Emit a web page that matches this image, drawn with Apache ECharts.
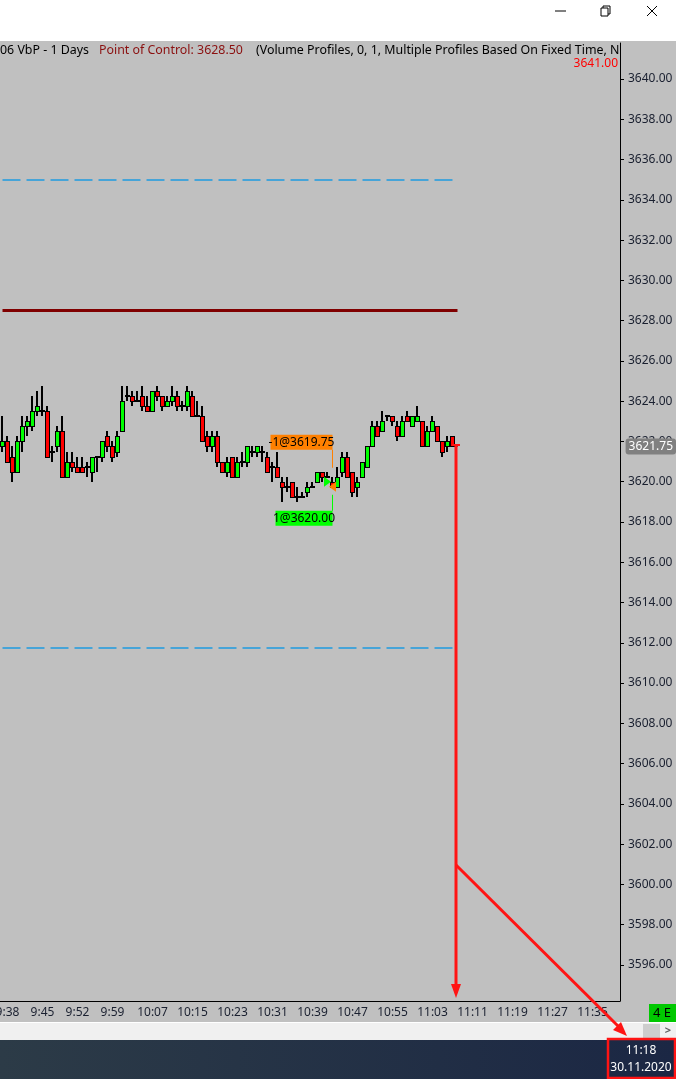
<!DOCTYPE html>
<html>
<head>
<meta charset="utf-8">
<title>ES 1 Minute</title>
<script src="https://cdn.jsdelivr.net/npm/echarts@6.0.0/dist/echarts.min.js"></script>
<style>
  html, body { margin: 0; padding: 0; background: #ffffff; }
  #main { width: 676px; height: 1079px; }
</style>
</head>
<body>
<div id="main"></div>
<script type="text/javascript">
// one-minute bars, 9:37 .. 11:07
var opens  = [3621.75, 3622, 3621.25, 3620.5, 3622, 3622.75, 3622.75, 3623.5, 3623.5, 3623.5,
              3621.5, 3621.75, 3622.5, 3620.25, 3621, 3620.75, 3620.75, 3620.75, 3620.5, 3621.25,
              3621.25, 3622.25, 3621.75, 3621.5, 3622.5, 3624.25, 3624.25, 3624, 3624.25, 3623.75,
              3623.5, 3624.5, 3624.25, 3623.75, 3624, 3624.25, 3623.75, 3623.75, 3624.25, 3623.25,
              3623.25, 3622.25, 3621.75, 3622.25, 3621, 3620.5, 3621.25, 3620.25, 3621, 3621,
              3621.5, 3621.5, 3621.5, 3621.25, 3620.75, 3620.75, 3620, 3619.75, 3620, 3619.25,
              3619.25, 3619.5, 3619.75, 3620, 3620.5, 3620.25, 3620, 3619.75, 3620.5, 3621.25,
              3620.5, 3619.75, 3620.25, 3620.75, 3621.75, 3622.75, 3622.5, 3623.25, 3623.25, 3622.75,
              3622.25, 3623.25, 3622.75, 3623, 3623, 3621.75, 3622.5, 3622.75, 3622, 3621.75,
              3622.25];
var closes = [3622, 3621, 3620.5, 3622, 3622.75, 3623, 3623.5, 3623.75, 3623.5, 3621.25,
              3621.5, 3622.5, 3620.25, 3621, 3620.75, 3620.5, 3620.5, 3620.75, 3621.25, 3621.25,
              3622, 3621.75, 3621.25, 3622.25, 3624, 3624.25, 3624, 3624, 3623.75, 3623.5,
              3624.5, 3624.25, 3623.75, 3624, 3624.25, 3623.75, 3623.75, 3624.5, 3623.25, 3623.25,
              3622, 3621.75, 3622.25, 3621, 3620.5, 3621, 3620.25, 3621, 3621, 3621.75,
              3621.5, 3621.75, 3621.5, 3620.5, 3620.75, 3620.25, 3619.75, 3619.75, 3619.25, 3619.25,
              3619.25, 3619.75, 3619.75, 3620.5, 3620.25, 3620.25, 3619.75, 3620.25, 3621.25, 3620.25,
              3619.5, 3620, 3621, 3621.75, 3622.75, 3622.25, 3623, 3623.25, 3623, 3622.25,
              3623, 3623, 3623.25, 3623.25, 3621.75, 3622.5, 3623, 3622, 3621.5, 3622,
              3621.75];
var lows   = [3621.5, 3621, 3620, 3620.5, 3621.5, 3622.25, 3622.5, 3623.25, 3623.25, 3621.25,
              3621, 3621.5, 3620.25, 3620.25, 3620.5, 3620.5, 3620.5, 3620.25, 3620, 3620.5,
              3621, 3621.5, 3621, 3621.25, 3622.5, 3624, 3623.75, 3624, 3623.5, 3623.5,
              3623.5, 3624, 3623.5, 3623.75, 3623.75, 3623.5, 3623.5, 3623.5, 3623.25, 3623.25,
              3622, 3621.5, 3621.5, 3620.75, 3620.5, 3620.25, 3620.25, 3620.25, 3620.75, 3620.75,
              3621.25, 3621.25, 3621, 3620.5, 3620, 3620.25, 3619, 3619.5, 3619.25, 3619,
              3619.25, 3619.25, 3619.75, 3620, 3620, 3620.25, 3619.75, 3619.75, 3620.25, 3620.25,
              3619.25, 3619.25, 3620.25, 3620.75, 3621.75, 3622.25, 3622.5, 3623, 3622.75, 3622,
              3622.25, 3623, 3622.75, 3623, 3621.75, 3621.75, 3622.5, 3622, 3621.25, 3621.5,
              3621.75];
var highs  = [3623.25, 3622.25, 3621.75, 3622.25, 3623.25, 3623.25, 3624.25, 3624.5, 3624.75, 3623.75,
              3621.75, 3622.75, 3623.25, 3621.5, 3621.5, 3621.25, 3621.25, 3621, 3621.25, 3621.25,
              3622, 3622.5, 3622, 3622.5, 3624.75, 3624.75, 3624.5, 3624.5, 3624.75, 3624.25,
              3624.5, 3624.75, 3624.25, 3624.25, 3624.75, 3624.5, 3624, 3624.75, 3624.5, 3624,
              3623.75, 3622.5, 3622.5, 3622.5, 3621, 3621.25, 3621.25, 3621.25, 3621.5, 3621.75,
              3621.75, 3621.75, 3621.75, 3621.5, 3621, 3621.5, 3620.25, 3620.25, 3620, 3619.75,
              3619.5, 3620, 3620, 3620.5, 3620.5, 3620.5, 3620.25, 3620.75, 3621.5, 3621.5,
              3620.5, 3620.25, 3621, 3621.75, 3623, 3623, 3623.5, 3623.25, 3623.25, 3623,
              3623.25, 3623.5, 3623.25, 3623.75, 3623, 3622.75, 3623.25, 3622.75, 3622, 3622.25,
              3622.25];

var xTickLabels = ['9:38', '9:45', '9:52', '9:59', '10:07', '10:15', '10:23', '10:31',
                   '10:39', '10:47', '10:55', '11:03', '11:11', '11:19', '11:27', '11:35'];
var yTicks = [3596, 3598, 3600, 3602, 3604, 3606, 3608, 3610, 3612, 3614, 3616, 3618,
              3620, 3622, 3624, 3626, 3628, 3630, 3632, 3634, 3636, 3638, 3640];

var pocPrice = 3628.50;
var vaHigh = 3635.00;
var vaLow = 3611.75;
var lastPrice = 3621.75;
var sellFill = { time: '10:43', price: 3619.75, text: '-1@3619.75' };
var buyFill  = { time: '10:42', price: 3620.00, text: '1@3620.00' };

// minute slots on the time axis, 9:37 .. 11:40
var times = [];
for (var m = 9 * 60 + 37; m <= 11 * 60 + 40; m++) {
    times.push(Math.floor(m / 60) + ':' + ('0' + (m % 60)).slice(-2));
}

// [slot, open, close, low, high]
var bars = opens.map(function (o, i) {
    return [i, o, closes[i], lows[i], highs[i]];
});

var txt = '#1a2030';
var font = 'Noto Sans';
var hdrFont = '12.4px "Noto Sans"';

function showTick(index, value) {
    return xTickLabels.indexOf(value) >= 0;
}

// NinjaTrader style bar: 2px black wick, black framed body
function renderBar(params, api) {
    var idx = api.value(0);
    var pO = api.coord([idx, api.value(1)]);
    var pC = api.coord([idx, api.value(2)]);
    var pL = api.coord([idx, api.value(3)]);
    var pH = api.coord([idx, api.value(4)]);
    var x = Math.floor(pO[0]);
    var yO = Math.round(pO[1]), yC = Math.round(pC[1]);
    var yL = Math.round(pL[1]), yH = Math.round(pH[1]);
    var top = Math.min(yO, yC);
    var h = Math.abs(yO - yC);
    var kids = [{
        type: 'rect',
        shape: { x: x - 1, y: yH, width: 2, height: Math.max(yL - yH, 1) },
        style: { fill: '#000' }
    }];
    if (h < 2) {
        kids.push({ type: 'rect', shape: { x: x - 2, y: top - 1, width: 5, height: 2 }, style: { fill: '#000' } });
    } else {
        kids.push({ type: 'rect', shape: { x: x - 2, y: top, width: 5, height: h + 1 }, style: { fill: '#000' } });
        kids.push({ type: 'rect', shape: { x: x - 1, y: top + 1, width: 3, height: h - 1 },
                    style: { fill: api.value(2) > api.value(1) ? '#00ff00' : '#ff0000' } });
    }
    return { type: 'group', children: kids };
}

var myChart = echarts.init(document.getElementById('main'));

var option = {
    backgroundColor: '#c0c0c0',
    animation: false,
    axisPointer: { triggerOn: 'none' },
    grid: { left: 0, right: 56, top: 43, bottom: 78, outerBoundsMode: 'none', containLabel: false },
    xAxis: {
        type: 'category',
        data: times,
        boundaryGap: true,
        axisLine: { lineStyle: { color: '#000', width: 1 } },
        axisTick: { alignWithLabel: true, interval: showTick, length: 4, lineStyle: { color: '#000' } },
        axisLabel: { interval: showTick, color: txt, fontFamily: font, fontSize: 12, margin: 6 },
        splitLine: { show: false }
    },
    yAxis: {
        type: 'value',
        position: 'right',
        min: 3594.21,
        max: 3641.79,
        axisLine: { show: true, lineStyle: { color: '#000', width: 1 } },
        axisTick: { show: true, customValues: yTicks, length: 4, lineStyle: { color: '#000' } },
        axisLabel: {
            customValues: yTicks, color: txt, fontFamily: font, fontSize: 12, margin: 8,
            formatter: function (v) { return v.toFixed(2); }
        },
        splitLine: { show: false },
        axisPointer: {
            show: true,
            value: lastPrice,
            status: 'show',
            triggerTooltip: false,
            lineStyle: { opacity: 0 },
            label: {
                show: true, backgroundColor: '#808080', color: '#ffffff',
                fontFamily: font, fontSize: 12, padding: [2, 3, 2, 3], margin: 6,
                formatter: function (p) { return p.value.toFixed(2); }
            }
        }
    },
    series: [{
        type: 'custom',
        renderItem: renderBar,
        data: bars,
        encode: { x: 0, y: [1, 2, 3, 4] },
        markLine: {
            silent: true,
            symbol: ['none', 'none'],
            label: { show: false },
            data: [
                [{ coord: ['9:37', vaHigh], lineStyle: { color: '#1e9be0', width: 1.5, type: [18, 6] } },
                 { coord: ['11:08', vaHigh] }],
                [{ coord: ['9:37', vaLow], lineStyle: { color: '#1e9be0', width: 1.5, type: [18, 6] } },
                 { coord: ['11:08', vaLow] }],
                [{ coord: ['9:37', pocPrice], lineStyle: { color: '#800000', width: 3, type: 'solid' } },
                 { coord: ['11:08', pocPrice] }],
                [{ coord: ['11:07', lastPrice], lineStyle: { color: '#000', width: 1, type: 'solid' } },
                 { coord: ['11:08', lastPrice] }]
            ]
        },
        markPoint: {
            silent: true,
            data: [
                { coord: [buyFill.time, buyFill.price], symbol: 'triangle', symbolRotate: -90,
                  symbolSize: [10, 7], itemStyle: { color: '#00ff00' }, label: { show: false } },
                { coord: [sellFill.time, sellFill.price], symbol: 'triangle', symbolRotate: 90,
                  symbolSize: [10, 7], itemStyle: { color: '#ff8000' }, label: { show: false } },
                { coord: [buyFill.time, buyFill.price], symbol: 'rect', symbolSize: [1, 16],
                  symbolOffset: [5, 21], itemStyle: { color: '#00ff00' }, label: { show: false } },
                { coord: [sellFill.time, sellFill.price], symbol: 'rect', symbolSize: [1, 18],
                  symbolOffset: [0, -28], itemStyle: { color: '#ff8000' }, label: { show: false } },
                { coord: [buyFill.time, buyFill.price], symbol: 'rect', symbolSize: [57, 15],
                  symbolOffset: [-23.5, 36.5], itemStyle: { color: '#00ff00' },
                  label: { show: true, position: 'inside', formatter: buyFill.text, color: '#000',
                           fontFamily: font, fontSize: 12 } },
                { coord: [sellFill.time, sellFill.price], symbol: 'rect', symbolSize: [62, 15],
                  symbolOffset: [-31, -44.5], itemStyle: { color: '#ff8000' },
                  label: { show: true, position: 'inside', formatter: sellFill.text, color: '#000',
                           fontFamily: font, fontSize: 12 } }
            ]
        }
    }],
    graphic: [
        // window title bar
        { type: 'rect', shape: { x: 0, y: 0, width: 676, height: 41 }, style: { fill: '#ffffff' }, z: 10 },
        { type: 'line', shape: { x1: 555, y1: 11, x2: 566, y2: 11 }, style: { stroke: '#000', lineWidth: 1 }, z: 11 },
        { type: 'rect', shape: { x: 601, y: 8, width: 7, height: 8 }, style: { fill: '#fff', stroke: '#000', lineWidth: 1 }, z: 11 },
        { type: 'polyline', shape: { points: [[603, 8], [603, 6], [610, 6], [610, 14], [608, 14]] }, style: { stroke: '#000', lineWidth: 1, fill: null }, z: 11 },
        { type: 'line', shape: { x1: 647, y1: 6, x2: 657, y2: 16 }, style: { stroke: '#000', lineWidth: 1 }, z: 11 },
        { type: 'line', shape: { x1: 657, y1: 6, x2: 647, y2: 16 }, style: { stroke: '#000', lineWidth: 1 }, z: 11 },

        // indicator header
        { type: 'text', left: 0, top: 44, z: 11,
          style: { text: '06 VbP - 1 Days', fill: '#000', font: hdrFont } },
        { type: 'text', left: 99, top: 44, z: 11,
          style: { text: 'Point of Control: 3628.50', fill: '#8b1010', font: hdrFont } },
        { type: 'text', left: 256, top: 44, z: 11,
          style: { text: '(Volume Profiles, 0, 1, Multiple Profiles Based On Fixed Time, N',
                   fill: '#000', font: hdrFont, width: 372, overflow: 'truncate', ellipsis: '' } },
        { type: 'text', right: 58, top: 58, z: 11,
          style: { text: '3641.00', fill: '#ff0000', font: '12px "Noto Sans"', align: 'right' } },

        // bottom right connection box
        { type: 'rect', shape: { x: 649, y: 1004, width: 27, height: 18 }, style: { fill: '#00c800' }, z: 10 },
        { type: 'text', x: 662, y: 1013, z: 11,
          style: { text: '4 E', fill: '#000', font: '13px "Noto Sans"', align: 'center', verticalAlign: 'middle' } },

        // scroll strip
        { type: 'rect', shape: { x: 0, y: 1022, width: 676, height: 18 }, style: { fill: '#f0f0f0' }, z: 10 },
        { type: 'rect', shape: { x: 0, y: 1022, width: 676, height: 1 }, style: { fill: '#ffffff' }, z: 10 },
        { type: 'rect', shape: { x: 643, y: 1024, width: 17, height: 14 }, style: { fill: '#cdcdcd' }, z: 11 },
        { type: 'text', x: 668, y: 1031, z: 11,
          style: { text: '>', fill: '#606060', font: 'bold 11px "Noto Sans"', align: 'center', verticalAlign: 'middle' } },

        // taskbar with clock
        { type: 'rect', shape: { x: 0, y: 1040, width: 676, height: 39 }, z: 10,
          style: { fill: new echarts.graphic.LinearGradient(0, 0, 1, 0, [
              { offset: 0, color: '#2c3b47' }, { offset: 1, color: '#1b2744' }]) } },
        { type: 'text', x: 641, y: 1051, z: 11,
          style: { text: '11:18', fill: '#ffffff', font: '12px "Noto Sans"', align: 'center', verticalAlign: 'middle' } },
        { type: 'text', x: 641, y: 1068, z: 11,
          style: { text: '30.11.2020', fill: '#ffffff', font: '12px "Noto Sans"', align: 'center', verticalAlign: 'middle' } },

        // red hand-drawn annotations
        { type: 'line', shape: { x1: 456, y1: 445, x2: 456, y2: 986 }, style: { stroke: '#ff1414', lineWidth: 3 }, z: 20 },
        { type: 'polygon', shape: { points: [[451, 984], [461, 984], [456, 998]] }, style: { fill: '#ff1414' }, z: 20 },
        { type: 'line', shape: { x1: 452, y1: 445, x2: 460, y2: 445 }, style: { stroke: '#ff1414', lineWidth: 2 }, z: 20 },
        { type: 'line', shape: { x1: 456, y1: 865, x2: 620, y2: 1028 }, style: { stroke: '#ff1414', lineWidth: 3 }, z: 20 },
        { type: 'polygon', shape: { points: [[627, 1036], [613, 1030], [621, 1022]] }, style: { fill: '#ff1414' }, z: 20 },
        { type: 'rect', shape: { x: 608, y: 1039, width: 67, height: 39 }, style: { fill: null, stroke: '#ff1414', lineWidth: 2.5 }, z: 20 }
    ]
};

myChart.setOption(option);
</script>
</body>
</html>
